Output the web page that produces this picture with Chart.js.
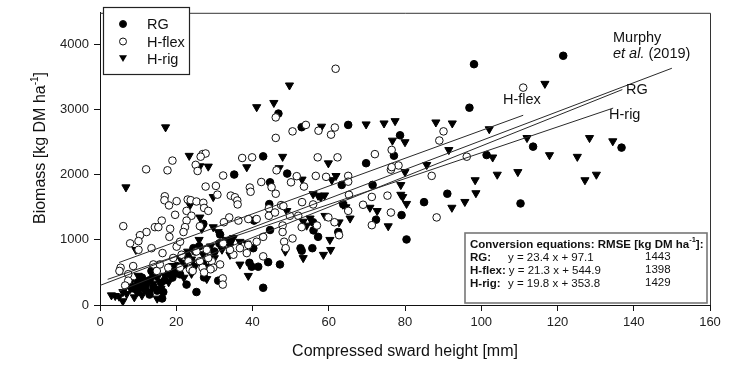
<!DOCTYPE html>
<html>
<head>
<meta charset="utf-8">
<script src="https://cdn.jsdelivr.net/npm/chart.js@4.4.1/dist/chart.umd.min.js"></script>
<style>
  html, body { margin: 0; padding: 0; background: #fff; }
  #wrap { width: 740px; height: 365px; position: relative; }
</style>
</head>
<body>
<div id="wrap"><canvas id="chart" width="740" height="365"></canvas></div>
<script>
const FONT = '"Liberation Sans", Arial, sans-serif';

// compressed sward height [mm], biomass [kg DM ha-1]
const rgPoints = [
  [46.8,2935],[52.9,2726],[65.1,2761],[42.8,2279],[35.2,2000],[49.1,2015],[44.6,1881],[69.8,2174],
  [63.4,1841],[44.4,1547],[40.4,1294],[63.8,1542],[44.6,1150],[55.9,1269],[56,1144],[57.2,1045],
  [62.5,1119],[52.6,871],[52.9,831],[55.7,871],[40.2,871],[39.2,647],[41.5,587],[39.8,587],
  [44.1,657],[47.2,622],[42.8,264],[31.5,1080],[34.1,980],[31.3,945],[27.1,1244],[24.5,871],
  [28,572],[27.3,423],[22.7,313],[25.3,199],[16.6,199],[16.3,100],[31,373],[13.5,522],
  [19.7,522],[20.1,597],[8,300],[9,250],[10,350],[10,200],[11,420],[11,280],[12,320],[12,230],
  [13,380],[13,160],[14,280],[14,450],[15,220],[16,340],[17,380],[18,480],[19,420],[20,550],
  [21,470],[22,620],[23,750],[24,680],[25,820],[26,900],[27,640],[29,560],[30,820],
  [121.5,3821],[98.1,3692],[96.9,3025],[78.7,2602],[77.1,2289],[101.4,2299],[113.6,2428],
  [136.8,2413],[71.5,1841],[91.1,1706],[85,1577],[110.3,1557],[79.1,1378],[72.4,1308],[80.4,1005]
];

const hflexPoints = [
  [61.8,3622],[46.1,2876],[54,2761],[50.5,2662],[57.3,2672],[61.6,2721],[60.6,2612],[46.1,2562],
  [26.9,2313],[27.7,2323],[26.4,2274],[19,2214],[12.1,2080],[17.7,2065],[25.1,2149],[25.6,2055],
  [37.3,2254],[39.9,2264],[57.1,2264],[62.3,2264],[32.3,1985],[46.3,2065],[51.6,1975],[56.6,1980],
  [59.3,1965],[65.1,1980],[65.1,1891],[53.5,1816],[50.1,1881],[45,1806],[46.1,1706],[39.3,1801],
  [39.5,1736],[42.3,1886],[27.7,1816],[30.4,1826],[30.8,1692],[17,1667],[16.9,1607],[18.1,1527],
  [20.1,1592],[23,1617],[23.8,1607],[25.3,1587],[27.1,1567],[27.3,1488],[28.4,1443],[34.3,1677],
  [35.4,1652],[36,1602],[36.1,1542],[47.5,1532],[53,1577],[55.9,1542],[16.2,1294],[19.7,1383],
  [22.7,1443],[24,1368],[22.7,1294],[22.3,1194],[21.9,1119],[26.2,1209],[33.9,1343],[32.5,1269],
  [36.3,1294],[38.9,1318],[41.1,1318],[44.3,1483],[44.3,1368],[45.9,1418],[48.1,1517],[47.9,1219],
  [49.8,1368],[52,1368],[6.1,1209],[12.2,1119],[14.4,1194],[15.3,1194],[18.4,1169],[10.5,1070],
  [10.1,980],[7.9,945],[10.1,846],[13.5,871],[16.4,796],[18.2,1045],[20.1,895],[21,970],
  [21.4,771],[25.3,821],[28,846],[29.3,672],[29.7,572],[29,547],[31.5,622],[32.2,408],
  [32.2,313],[35,771],[36.7,871],[38.9,920],[38.5,796],[41.1,970],[42.8,746],[42.8,1045],
  [48.3,970],[47.9,1119],[50.5,1020],[48.7,871],[52.9,1194],[56.9,1219],[59.9,1343],[61.5,1269],
  [62.7,1070],[65.1,1443],[5.4,572],[5.1,522],[7.4,473],[7.4,373],[8.7,597],[6.6,299],
  [14,622],[14.9,522],[15.7,622],[19.2,721],[17.9,572],[21,572],[23.2,672],[23.6,547],
  [24.3,522],[26.2,672],[26.9,572],[27.3,498],[28.4,721],[32.3,945],[34.1,846],
  [111,3333],[90.1,2662],[89,2522],[76.5,2378],[72.1,2313],[76.3,2075],[78.3,2139],[76.5,2114],
  [87,1980],[96.2,2274],[71.3,1657],[75.4,1677],[76.3,1418],[88.3,1343],[71.3,1224],[69,1537],[65.3,1690]
];

const hrigPoints = [
  [49.7,3368],[41.1,3035],[45.6,3100],[17.2,2726],[58.1,2736],[69.8,2771],[23.4,2289],[26.2,2129],
  [28.4,2124],[38.5,2114],[47.9,2274],[47,2100],[59.9,2174],[61.9,1980],[60.8,1916],[53,1925],
  [6.8,1806],[29.7,1657],[23.6,1532],[55.9,1701],[57.2,1677],[58.9,1682],[57.9,1652],[49,1443],
  [53.3,1279],[55.1,1328],[59,1368],[54.2,1219],[60.3,1000],[62.7,1269],[65.6,1328],[63.7,1540],
  [64.5,1500],[26.2,1343],[29.7,1194],[26.7,1169],[31,1119],[35,1030],[36.7,970],[38.5,945],
  [34.1,771],[36.7,622],[38.9,448],[48.6,821],[53.3,721],[58.6,771],[60.5,846],[10.5,1045],[9.4,846],
  [3,150],[4,140],[5,130],[6,60],[6,200],[7,170],[8,250],[8,350],[9,120],[10,300],[10,450],
  [11,150],[12,280],[12,380],[13,200],[14,330],[15,100],[15,420],[16,250],[17,450],[18,350],
  [19,600],[20,500],[21,720],[22,650],[22,420],[23,820],[24,700],[24,480],[25,880],[25,600],
  [26,1000],[27,780],[28,400],[29,900],[30,720],[32,850],[33,1000],[34,900],
  [74.5,2786],[77.4,2821],[88.1,2801],[92.4,2786],[116.7,3393],[102.1,2697],[76.7,2522],[80,2498],
  [91.5,2378],[112,2562],[103,2264],[117.9,2299],[125.2,2274],[128.4,2562],[134.5,2512],[85.7,2149],
  [80,2040],[78.9,1841],[98.4,1915],[104.2,2000],[109.6,2040],[127.2,1915],[130.2,2000],[78.9,1692],
  [79.4,1657],[80.4,1552],[98.6,1716],[95.7,1582],[92.3,1493],[72.7,1443],[70.8,1493],[75.6,1209]
];

// regression lines: Murphy et al. (2019), RG, H-flex, H-rig
const lineNames = ['Murphy', 'RG', 'H-flex', 'H-rig'];
const lineSlope = [22.2, 23.4, 21.3, 19.8];
const lineIntercept = [300, 97.1, 544.9, 353.8];
const lineFrom = [0, 5, 5, 2];
const lineTo = [150, 137, 111, 134.6];

// conversion equations table
const eqNames = ['RG:', 'H-flex:', 'H-rig:'];
const eqText = ['y = 23.4 x + 97.1', 'y = 21.3 x + 544.9', 'y = 19.8 x + 353.8'];
const eqRmse = ['1443', '1398', '1429'];

const xTicks = [0, 20, 40, 60, 80, 100, 120, 140, 160];
const yTicks = [0, 1000, 2000, 3000, 4000];

const toXY = arr => arr.map(p => ({ x: p[0], y: p[1] }));

const lineSets = lineNames.map((name, i) => ({
  type: 'line',
  label: name,
  data: [lineFrom[i], lineTo[i]].map(x => ({ x: x, y: lineSlope[i] * x + lineIntercept[i] })),
  borderColor: '#2a2a2a',
  borderWidth: 1,
  pointRadius: 0,
  fill: false
}));

const pointSets = [
  { label: 'H-flex', data: toXY(hflexPoints), pointStyle: 'circle', pointRadius: 3.8,
    backgroundColor: '#fff', borderColor: '#111', borderWidth: 1 },
  { label: 'H-rig', data: toXY(hrigPoints), pointStyle: 'triangle', rotation: 180, pointRadius: 4.7,
    backgroundColor: '#000', borderColor: '#000', borderWidth: 1 },
  { label: 'RG', data: toXY(rgPoints), pointStyle: 'circle', pointRadius: 3.8,
    backgroundColor: '#000', borderColor: '#000', borderWidth: 1 }
];

function marker(ctx, kind, x, y) {
  ctx.save();
  ctx.lineWidth = 1;
  ctx.strokeStyle = '#111';
  ctx.beginPath();
  if (kind === 'tri') {
    ctx.moveTo(x - 4, y - 3.2);
    ctx.lineTo(x + 4, y - 3.2);
    ctx.lineTo(x, y + 3.6);
    ctx.closePath();
    ctx.fillStyle = '#000';
    ctx.fill();
  } else {
    ctx.arc(x, y, 3.5, 0, Math.PI * 2);
    ctx.fillStyle = kind === 'open' ? '#fff' : '#000';
    ctx.fill();
    ctx.stroke();
  }
  ctx.restore();
}

const decor = {
  id: 'decor',
  afterDraw(chart) {
    const ctx = chart.ctx;
    const a = chart.chartArea;
    ctx.save();
    // frame top and right
    ctx.strokeStyle = '#333';
    ctx.lineWidth = 1;
    ctx.beginPath();
    ctx.moveTo(a.left, a.top + 0.5);
    ctx.lineTo(a.right + 0.5, a.top + 0.5);
    ctx.lineTo(a.right + 0.5, a.bottom);
    ctx.stroke();

    // legend box
    ctx.fillStyle = '#fff';
    ctx.fillRect(103, 7, 87, 68);
    ctx.strokeStyle = '#222';
    ctx.lineWidth = 1.2;
    ctx.strokeRect(103.5, 7.5, 86, 67);
    const legNames = ['RG', 'H-flex', 'H-rig'];
    const legKinds = ['fill', 'open', 'tri'];
    const legY = [24, 41.5, 58.5];
    ctx.font = '14.5px ' + FONT;
    ctx.textBaseline = 'middle';
    ctx.textAlign = 'left';
    legNames.forEach((n, i) => {
      marker(ctx, legKinds[i], 123, legY[i]);
      ctx.fillStyle = '#111';
      ctx.fillText(n, 147, legY[i] + 1);
    });

    // line labels
    ctx.fillStyle = '#111';
    ctx.font = '14.5px ' + FONT;
    ctx.fillText('Murphy', 613, 38);
    ctx.font = 'italic 14.5px ' + FONT;
    ctx.fillText('et al.', 613, 54);
    const w = ctx.measureText('et al.').width;
    ctx.font = '14.5px ' + FONT;
    ctx.fillText(' (2019)', 613 + w, 54);
    ctx.fillText('RG', 626, 90);
    ctx.fillText('H-flex', 503, 100);
    ctx.fillText('H-rig', 609, 115);

    // equations box
    ctx.fillStyle = '#fff';
    ctx.fillRect(465, 233, 242, 70);
    ctx.strokeStyle = '#777';
    ctx.lineWidth = 1.6;
    ctx.strokeRect(465, 233, 242, 70);
    ctx.fillStyle = '#111';
    ctx.font = 'bold 11.5px ' + FONT;
    let hx = 470;
    const head = 'Conversion equations: RMSE [kg DM ha';
    ctx.fillText(head, hx, 245);
    hx += ctx.measureText(head).width;
    ctx.font = 'bold 7.5px ' + FONT;
    ctx.fillText('-1', hx, 240);
    hx += ctx.measureText('-1').width;
    ctx.font = 'bold 11.5px ' + FONT;
    ctx.fillText(']:', hx, 245);
    const rowY = [258, 271, 284];
    eqNames.forEach((n, i) => {
      ctx.font = 'bold 11.5px ' + FONT;
      ctx.fillText(n, 470, rowY[i]);
      const lw = ctx.measureText(n).width;
      ctx.font = '11.5px ' + FONT;
      ctx.fillText(eqText[i], Math.max(508, 470 + lw + 3), rowY[i]);
      ctx.fillText(eqRmse[i], 645, rowY[i] - 1);
    });

    // axis titles
    ctx.font = '16px ' + FONT;
    ctx.textAlign = 'center';
    ctx.fillText('Compressed sward height [mm]', 405, 352);
    ctx.translate(41, 148);
    ctx.rotate(-Math.PI / 2);
    const t1 = 'Biomass [kg DM ha', t2 = '-1', t3 = ']';
    ctx.font = '16px ' + FONT;
    const w1 = ctx.measureText(t1).width, w3 = ctx.measureText(t3).width;
    ctx.font = '10px ' + FONT;
    const w2 = ctx.measureText(t2).width;
    const sx = -(w1 + w2 + w3) / 2;
    ctx.textAlign = 'left';
    ctx.font = '16px ' + FONT;
    ctx.fillText(t1, sx, 0);
    ctx.font = '10px ' + FONT;
    ctx.fillText(t2, sx + w1, -6);
    ctx.font = '16px ' + FONT;
    ctx.fillText(t3, sx + w1 + w2, 0);
    ctx.restore();
  }
};

new Chart(document.getElementById('chart'), {
  type: 'scatter',
  data: { datasets: lineSets.concat(pointSets) },
  options: {
    responsive: false,
    animation: false,
    layout: { padding: { left: 0, right: 30, top: 5, bottom: 0 } },
    plugins: { legend: { display: false }, tooltip: { enabled: false }, title: { display: false } },
    scales: {
      x: {
        type: 'linear', min: 0, max: 160,
        afterFit: s => { s.height = 60; },
        afterBuildTicks: s => { s.ticks = xTicks.map(v => ({ value: v })); },
        grid: { drawOnChartArea: false, drawTicks: true, tickLength: 6, color: '#111' },
        border: { color: '#111', width: 1 },
        ticks: { color: '#222', font: { family: FONT, size: 13 }, padding: 4, maxRotation: 0,
          callback: v => String(v) }
      },
      y: {
        type: 'linear', min: 0, max: 4480,
        afterFit: s => { s.width = 100; },
        afterBuildTicks: s => { s.ticks = yTicks.map(v => ({ value: v })); },
        grid: { drawOnChartArea: false, drawTicks: true, tickLength: 6, color: '#111' },
        border: { color: '#111', width: 1 },
        ticks: { color: '#222', font: { family: FONT, size: 13 }, padding: 5,
          callback: v => String(v) }
      }
    }
  },
  plugins: [decor]
});
</script>
</body>
</html>
